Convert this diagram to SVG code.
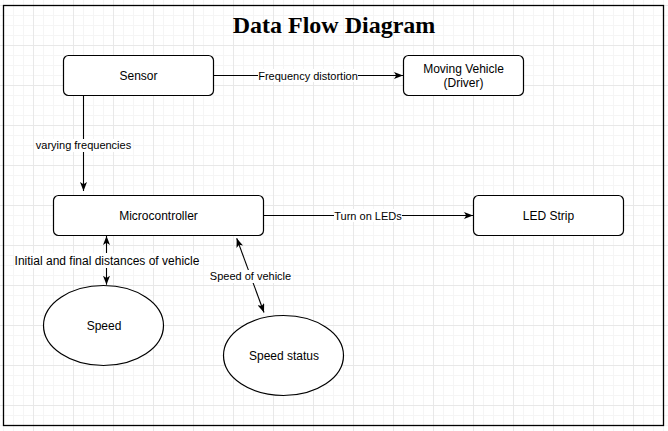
<svg xmlns="http://www.w3.org/2000/svg" width="668" height="431" viewBox="0 0 668 431">
<style>
.box{fill:#fff;stroke:#000;stroke-width:1.2}
.lbl{font-family:"Liberation Sans",Arial,sans-serif;font-size:12px;fill:#000;text-anchor:middle}
.elbl{font-family:"Liberation Sans",Arial,sans-serif;font-size:11px;fill:#000;text-anchor:middle}
.bg{fill:#fff}
.edge{fill:none;stroke:#000;stroke-width:1.1}
</style>
<defs>
<pattern id="grid" patternUnits="userSpaceOnUse" x="33" y="5" width="40" height="40">
<rect x="0" y="0" width="40" height="40" fill="#fff"/>
<rect x="10" y="0" width="1" height="40" fill="#f5f5f5"/>
<rect x="20" y="0" width="1" height="40" fill="#f5f5f5"/>
<rect x="30" y="0" width="1" height="40" fill="#f5f5f5"/>
<rect x="0" y="10" width="40" height="1" fill="#f5f5f5"/>
<rect x="0" y="20" width="40" height="1" fill="#f5f5f5"/>
<rect x="0" y="30" width="40" height="1" fill="#f5f5f5"/>
<rect x="0" y="0" width="1" height="40" fill="#e8e8e8"/>
<rect x="0" y="0" width="40" height="1" fill="#e8e8e8"/>
</pattern>
<marker id="arr" markerUnits="userSpaceOnUse" viewBox="0 0 9 7" markerWidth="9" markerHeight="7" refX="9" refY="3.5" orient="auto-start-reverse">
<path d="M0,0 L9,3.5 L0,7 L2.2,3.5 Z" fill="#000"/>
</marker>
</defs>
<rect x="0" y="0" width="668" height="431" fill="url(#grid)"/>
<rect x="3.5" y="5.5" width="660" height="420" fill="none" stroke="#000" stroke-width="1.3"/>
<text x="334" y="33" font-family="'Liberation Serif','Times New Roman',serif" font-size="24" font-weight="bold" text-anchor="middle" fill="#000">Data Flow Diagram</text>

<g id="connectors">
<g id="e-sensor-vehicle">
<line class="edge" x1="213.5" y1="75.5" x2="403" y2="75.5" marker-end="url(#arr)"/>
<rect class="bg" x="258" y="69" width="100" height="13"/>
<text class="elbl" x="308" y="79.5">Frequency distortion</text>
</g>
<g id="e-sensor-micro">
<line class="edge" x1="83.5" y1="95.5" x2="83.5" y2="191" marker-end="url(#arr)"/>
<rect class="bg" x="36" y="139" width="95" height="13"/>
<text class="elbl" x="83.5" y="149">varying frequencies</text>
</g>
<g id="e-micro-led">
<line class="edge" x1="263.5" y1="215.5" x2="473" y2="215.5" marker-end="url(#arr)"/>
<rect class="bg" x="334" y="209" width="68" height="13"/>
<text class="elbl" x="368" y="219.5">Turn on LEDs</text>
</g>
<g id="e-micro-speed">
<line class="edge" x1="106.5" y1="236" x2="106.5" y2="284.7" marker-start="url(#arr)" marker-end="url(#arr)"/>
<rect class="bg" x="14.5" y="253" width="185" height="15"/>
<text class="lbl" x="107" y="264.8">Initial and final distances of vehicle</text>
</g>
<g id="e-micro-status">
<line class="edge" x1="236.7" y1="238.3" x2="264" y2="312.5" marker-start="url(#arr)" marker-end="url(#arr)"/>
<rect class="bg" x="210" y="270" width="81" height="13"/>
<text class="elbl" x="250.5" y="280">Speed of vehicle</text>
</g>
</g>

<g id="sensor">
<rect class="box" x="63.5" y="55.5" width="150" height="40" rx="5"/>
<text class="lbl" x="138.5" y="79.8">Sensor</text>
</g>
<g id="moving-vehicle">
<rect class="box" x="403.5" y="55.5" width="120" height="40" rx="5"/>
<text class="lbl" x="463.5" y="73.3">Moving Vehicle</text>
<text class="lbl" x="463.5" y="87">(Driver)</text>
</g>
<g id="microcontroller">
<rect class="box" x="53.5" y="195.5" width="210" height="40" rx="5"/>
<text class="lbl" x="158.5" y="219.8">Microcontroller</text>
</g>
<g id="led-strip">
<rect class="box" x="473.5" y="195.5" width="150" height="40" rx="5"/>
<text class="lbl" x="548.5" y="219.8">LED Strip</text>
</g>
<g id="speed">
<ellipse class="box" cx="103.5" cy="325.5" rx="60" ry="40"/>
<text class="lbl" x="104" y="330">Speed</text>
</g>
<g id="speed-status">
<ellipse class="box" cx="283.5" cy="355.5" rx="60" ry="40"/>
<text class="lbl" x="284" y="360">Speed status</text>
</g>
</svg>
